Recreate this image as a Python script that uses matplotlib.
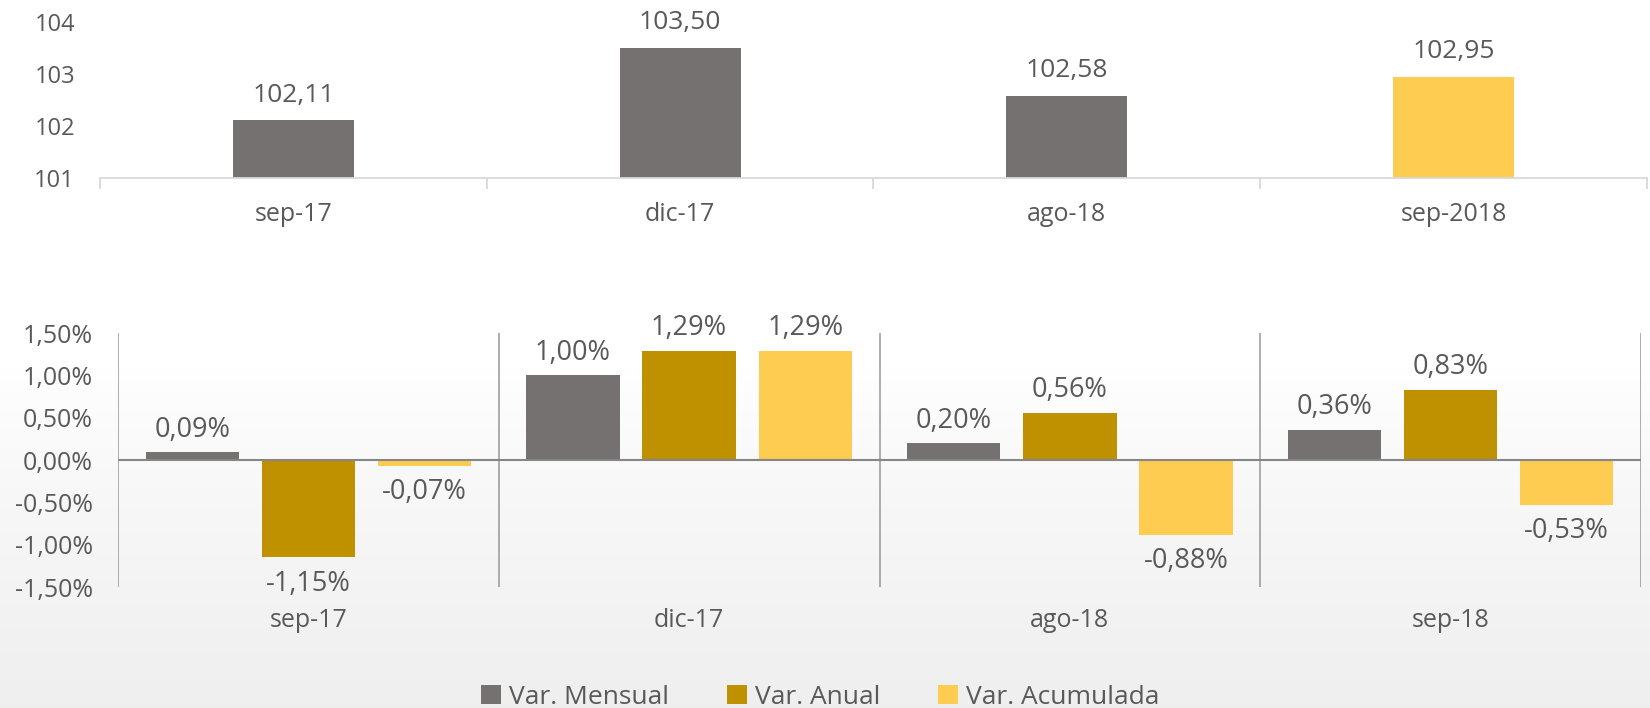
import matplotlib
matplotlib.use("Agg")
import matplotlib.pyplot as plt
import numpy as np
from matplotlib.patches import Patch

plt.rcParams['font.family'] = ['Open Sans', 'DejaVu Sans']

# ---- data ----
top_categories = ["sep-17", "dic-17", "ago-18", "sep-2018"]
top_values = [102.11, 103.50, 102.58, 102.95]
top_yticks = [101, 102, 103, 104]

bottom_categories = ["sep-17", "dic-17", "ago-18", "sep-18"]
var_mensual = [0.09, 1.00, 0.20, 0.36]
var_anual = [-1.15, 1.29, 0.56, 0.83]
var_acumulada = [-0.07, 1.29, -0.88, -0.53]
bottom_yticks = [-1.5, -1.0, -0.5, 0.0, 0.5, 1.0, 1.5]
series_names = ["Var. Mensual", "Var. Anual", "Var. Acumulada"]

GRAY = "#767171"
GOLD = "#BF9000"
YELLOW = "#FFCC52"
TXT = "#595959"

W, H = 1650, 708
fig = plt.figure(figsize=(W / 100, H / 100), dpi=100)

# background gradient
bg = fig.add_axes([0, 0, 1, 1], zorder=-10)
rows = np.linspace(0, 1, 400)
t = np.clip((rows - 0.52) / 0.48, 0, 1)
t = t ** 0.8
top_c = np.array([1.0, 1.0, 1.0])
bot_c = np.array([0.937, 0.937, 0.942])
img = top_c[None, :] * (1 - t[:, None]) + bot_c[None, :] * t[:, None]
img = np.repeat(img[:, None, :], 10, axis=1)
bg.imshow(img, aspect="auto", extent=[0, 1, 0, 1], origin="upper")
bg.set_axis_off()


def fx(px):
    return px / W


def fy(py):
    return 1 - py / H


def pct(v):
    return f"{v:.2f}%".replace(".", ",")


# ---- top chart ----
axt = fig.add_axes([fx(100), fy(178), fx(1647) - fx(100), fy(22) - fy(178)])
axt.set_facecolor("none")
xt = np.arange(len(top_categories))
top_colors = [GRAY, GRAY, GRAY, YELLOW]
axt.bar(xt, top_values, width=0.313, color=top_colors, zorder=2)
axt.set_xlim(-0.5, len(top_categories) - 0.5)
axt.set_ylim(101, 104)
axt.set_yticks(top_yticks)
axt.set_yticklabels([str(v) for v in top_yticks], fontsize=17, color=TXT)
axt.tick_params(axis="y", length=0, pad=18)
axt.set_xticks(xt)
axt.set_xticklabels(top_categories, fontsize=18, color=TXT)
axt.set_xticks(np.arange(-0.5, len(top_categories), 1.0), minor=True)
axt.tick_params(axis="x", which="major", length=0, pad=17)
axt.tick_params(axis="x", which="minor", length=8, color="#D9D9D9", width=1.3)
for s in ["top", "right", "left"]:
    axt.spines[s].set_visible(False)
axt.spines["bottom"].set_color("#D9D9D9")
axt.spines["bottom"].set_linewidth(1.3)
for x, v in zip(xt, top_values):
    axt.annotate(f"{v:.2f}".replace(".", ","), (x, v), xytext=(0, 9),
                 textcoords="offset points", ha="center", va="bottom",
                 fontsize=19, color=TXT)

# ---- bottom chart ----
axb = fig.add_axes([fx(118), fy(587), fx(1641) - fx(118), fy(333) - fy(587)])
axb.set_facecolor("none")
xb = np.arange(len(bottom_categories))
bw = 0.245
off = 0.305
series = [var_mensual, var_anual, var_acumulada]
colors = [GRAY, GOLD, YELLOW]
for i, (vals, c) in enumerate(zip(series, colors)):
    pos = xb + (i - 1) * off
    axb.bar(pos, vals, width=bw, color=c, zorder=2)
    for p, v in zip(pos, vals):
        if v >= 0:
            axb.annotate(pct(v), (p, v), xytext=(0, 6), textcoords="offset points",
                         ha="center", va="bottom", fontsize=19.5, color=TXT)
        else:
            axb.annotate(pct(v), (p, v), xytext=(0, -9), textcoords="offset points",
                         ha="center", va="top", fontsize=19.5, color=TXT)

axb.set_xlim(-0.5, len(bottom_categories) - 0.5)
axb.set_ylim(-1.5, 1.5)
axb.axhline(0, color="#868686", lw=1.5, zorder=3)
for b in np.arange(-0.5, len(bottom_categories), 1.0):
    axb.axvline(b, color="#A6A6A6", lw=1.3, zorder=1)
axb.set_yticks(bottom_yticks)
axb.set_yticklabels([pct(v) for v in bottom_yticks], fontsize=18, color=TXT)
axb.tick_params(axis="y", length=0, pad=18)
axb.set_xticks(xb)
axb.set_xticklabels(bottom_categories, fontsize=18, color=TXT)
axb.tick_params(axis="x", length=0, pad=15)
for s in axb.spines.values():
    s.set_visible(False)

handles = [Patch(facecolor=c, edgecolor="none") for c in colors]
fig.legend(handles, series_names, loc="center", bbox_to_anchor=(0.497, 0.015),
           ncol=3, frameon=False, fontsize=19, handlelength=0.75, handleheight=0.75,
           handletextpad=0.3, columnspacing=2.2, labelcolor=TXT)

fig.savefig("out.png", dpi=100)
